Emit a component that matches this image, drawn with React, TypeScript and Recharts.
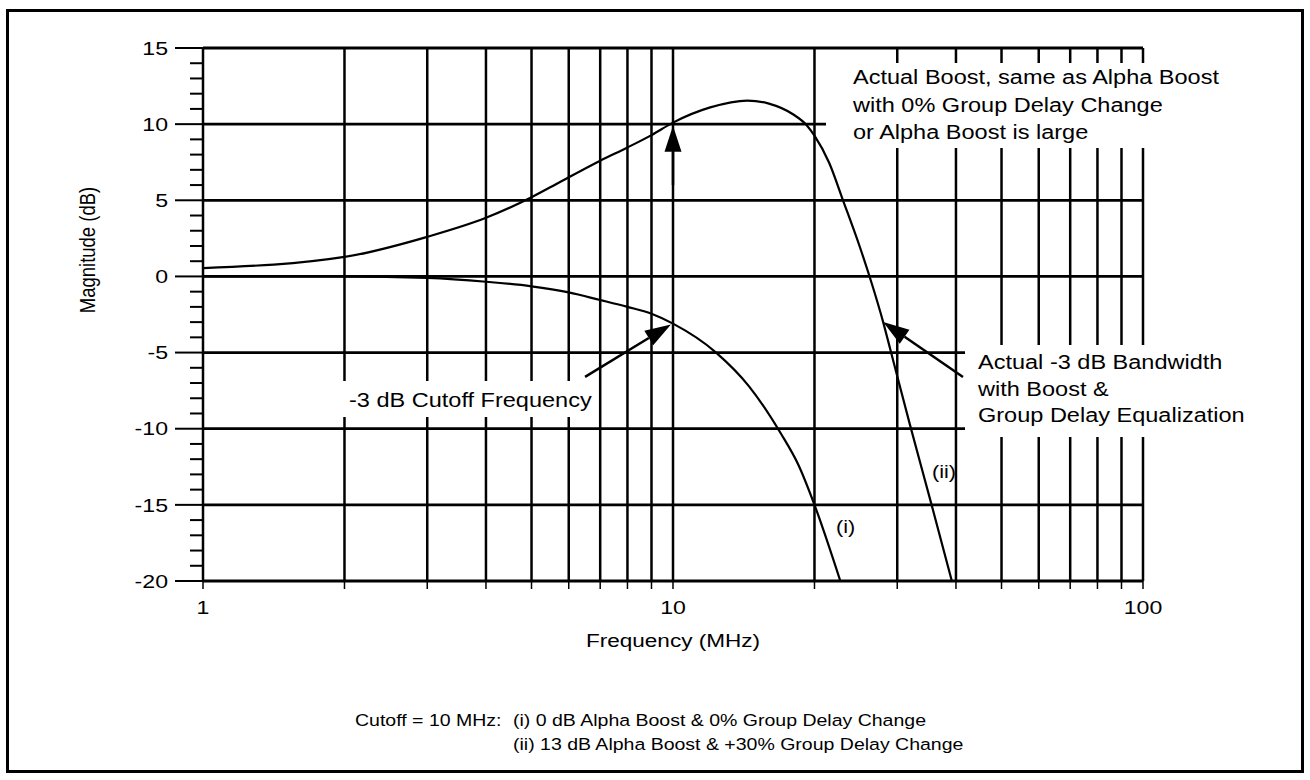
import React from 'react';
import { LineChart, Line, XAxis, YAxis, ReferenceLine } from 'recharts';

// curve (i): 0 dB alpha boost, 0% group delay change
const freqI = [1, 2, 3, 4, 5, 6, 7, 8, 9, 10, 12.35, 14.5, 16.95, 18.5, 20, 22.7];
const magI = [0, 0, -0.1, -0.35, -0.65, -1.05, -1.55, -2.0, -2.45, -3.1, -5, -7.2, -10.3, -12.4, -15, -20];

// curve (ii): 13 dB alpha boost, +30% group delay change
const freqII = [1, 2, 3, 4, 5, 5.75, 7, 8, 9, 10, 12, 14.4, 16, 18, 19.25, 20, 21.5, 23, 25, 26.5, 28, 29, 31.9, 35.5, 39.2];
const magII = [0.55, 1.28, 2.6, 3.85, 5.2, 6.2, 7.6, 8.47, 9.28, 10.1, 11.1, 11.55, 11.35, 10.65, 9.93, 9.24, 7.45, 5, 1.9, -0.5, -3, -4.8, -9.7, -15, -20];

const freqGrid = [1, 2, 3, 4, 5, 6, 7, 8, 9, 10, 20, 30, 40, 50, 60, 70, 80, 90, 100];
const freqLabels = [1, 10, 100];
const magTicks = [-20, -19, -18, -17, -16, -15, -14, -13, -12, -11, -10, -9, -8, -7, -6, -5, -4, -3, -2, -1,
  0, 1, 2, 3, 4, 5, 6, 7, 8, 9, 10, 11, 12, 13, 14, 15];
const magGrid = [-20, -15, -10, -5, 0, 5, 10, 15];

// annotation arrows: [from, to] in (MHz, dB)
const arrowBoost = [{ x: 10, y: 6 }, { x: 10, y: 9.9 }];
const arrowCutoff = [{ x: 6.5, y: -6.6 }, { x: 9.9, y: -3.15 }];
const arrowBandwidth = [{ x: 41.4, y: -6.6 }, { x: 28, y: -3 }];

const seriesI = freqI.map((f, i) => ({ f, db: magI[i] }));
const seriesII = freqII.map((f, i) => ({ f, db: magII[i] }));

const FONT = '"Liberation Sans", Arial, Helvetica, sans-serif';
const SX = 1.2; // scan is stretched horizontally

const MagTick = (props: any) => {
  const { x, y, payload } = props;
  const major = payload.value % 5 === 0;
  const len = major ? 28 : 13;
  return (
    <g>
      <line x1={x - len} y1={y} x2={x} y2={y} stroke="#000" strokeWidth={2} />
      {major && (
        <text transform={`translate(${x - 35},${y}) scale(1.25,1)`} textAnchor="end" dy="0.36em"
          fontFamily={FONT} fontSize={18.5} fill="#000">
          {payload.value}
        </text>
      )}
    </g>
  );
};

const FreqTick = (props: any) => {
  const { x, y, payload } = props;
  const show = freqLabels.includes(payload.value);
  return (
    <g>
      <line x1={x} y1={y} x2={x} y2={y + 8} stroke="#000" strokeWidth={1.5} />
      {show && (
        <text transform={`translate(${x},${y + 26}) scale(1.25,1)`} textAnchor="middle" dy="0.36em"
          fontFamily={FONT} fontSize={18.5} fill="#000">
          {payload.value}
        </text>
      )}
    </g>
  );
};

const Arrow = (props: any) => {
  const { x1, y1, x2, y2 } = props;
  const dx = x2 - x1;
  const dy = y2 - y1;
  const len = Math.hypot(dx, dy) || 1;
  const ux = dx / len;
  const uy = dy / len;
  const hl = 26;
  const hw = 8.5;
  const bx = x2 - ux * hl;
  const by = y2 - uy * hl;
  const px = -uy * hw;
  const py = ux * hw;
  return (
    <g>
      <line x1={x1} y1={y1} x2={bx} y2={by} stroke="#000" strokeWidth={2.5} />
      <polygon points={`${x2},${y2} ${bx + px},${by + py} ${bx - px},${by - py}`} fill="#000" />
    </g>
  );
};

const txt = (left: number, top: number, size: number, lines: string[], lh: number) => (
  <div style={{
    position: 'absolute', left, top, fontFamily: FONT, fontSize: size, lineHeight: `${lh}px`,
    color: '#000', whiteSpace: 'pre', transform: `scaleX(${SX})`, transformOrigin: 'left center',
  }}>
    {lines.map((l, i) => <div key={i}>{l}</div>)}
  </div>
);

const box = (left: number, top: number, width: number, height: number) => (
  <div style={{ position: 'absolute', left, top, width, height, background: '#fff' }} />
);

export default function App() {
  return (
    <div style={{ position: 'relative', width: 1310, height: 780, background: '#fff', overflow: 'hidden' }}>
      <style>{'body{margin:0;background:#fff}'}</style>
      <div style={{
        position: 'absolute', left: 6, top: 9, width: 1298, height: 764,
        border: '3px solid #000', boxSizing: 'border-box',
      }} />
      <div style={{ position: 'absolute', left: 0, top: 0 }}>
        <LineChart width={1310} height={780} margin={{ top: 48, right: 167, bottom: 159, left: 103 }}>
          <XAxis dataKey="f" type="number" scale="log" domain={[1, 100]} ticks={freqGrid} interval={0}
            allowDataOverflow axisLine={false} tickLine={false} tickSize={0} tickMargin={0} height={40}
            tick={<FreqTick />} />
          <YAxis type="number" domain={[-20, 15]} ticks={magTicks} interval={0} allowDataOverflow
            axisLine={false} tickLine={false} tickSize={0} tickMargin={0} width={100} tick={<MagTick />} />
          {freqGrid.map((f) => (
            <ReferenceLine key={`v${f}`} x={f} stroke="#000" strokeWidth={2.5} />
          ))}
          {magGrid.map((m) => (
            <ReferenceLine key={`h${m}`} y={m} stroke="#000" strokeWidth={2.8} />
          ))}
          <ReferenceLine segment={arrowBoost} shape={<Arrow />} />
          <ReferenceLine segment={arrowCutoff} shape={<Arrow />} />
          <ReferenceLine segment={arrowBandwidth} shape={<Arrow />} />
          <Line data={seriesI} dataKey="db" type="monotone" stroke="#000" strokeWidth={2.2} dot={false}
            isAnimationActive={false} />
          <Line data={seriesII} dataKey="db" type="monotone" stroke="#000" strokeWidth={2.2} dot={false}
            isAnimationActive={false} />
        </LineChart>
      </div>

      {/* white-backed annotation boxes that break the grid */}
      {box(826, 63, 345, 85)}
      {box(340, 381, 252, 36)}
      {box(965, 345, 300, 92)}

      {txt(853, 64, 19.6, ['Actual Boost, same as Alpha Boost', 'with 0% Group Delay Change', 'or Alpha Boost is large'], 27.5)}
      {txt(349, 386, 19.6, ['-3 dB Cutoff Frequency'], 28)}
      {txt(978, 349, 19.6, ['Actual -3 dB Bandwidth', 'with Boost &', 'Group Delay Equalization'], 26.5)}
      {txt(932, 459, 18, ['(ii)'], 26)}
      {txt(836, 514, 18, ['(i)'], 26)}

      {/* axis titles */}
      <div style={{
        position: 'absolute', left: 88, top: 250, fontFamily: FONT, fontSize: 18.5, whiteSpace: 'pre',
        transform: 'translate(-50%,-50%) rotate(-90deg) scaleY(1.2)',
      }}>Magnitude (dB)</div>
      <div style={{
        position: 'absolute', left: 673, top: 641, fontFamily: FONT, fontSize: 18.8, whiteSpace: 'pre',
        transform: `translate(-50%,-50%) scaleX(${SX})`,
      }}>Frequency (MHz)</div>

      {/* footnote */}
      {txt(355, 708, 16.25, ['Cutoff = 10 MHz:'], 24)}
      {txt(513, 708, 16.25, ['(i) 0 dB Alpha Boost & 0% Group Delay Change', '(ii) 13 dB Alpha Boost & +30% Group Delay Change'], 24)}
    </div>
  );
}
